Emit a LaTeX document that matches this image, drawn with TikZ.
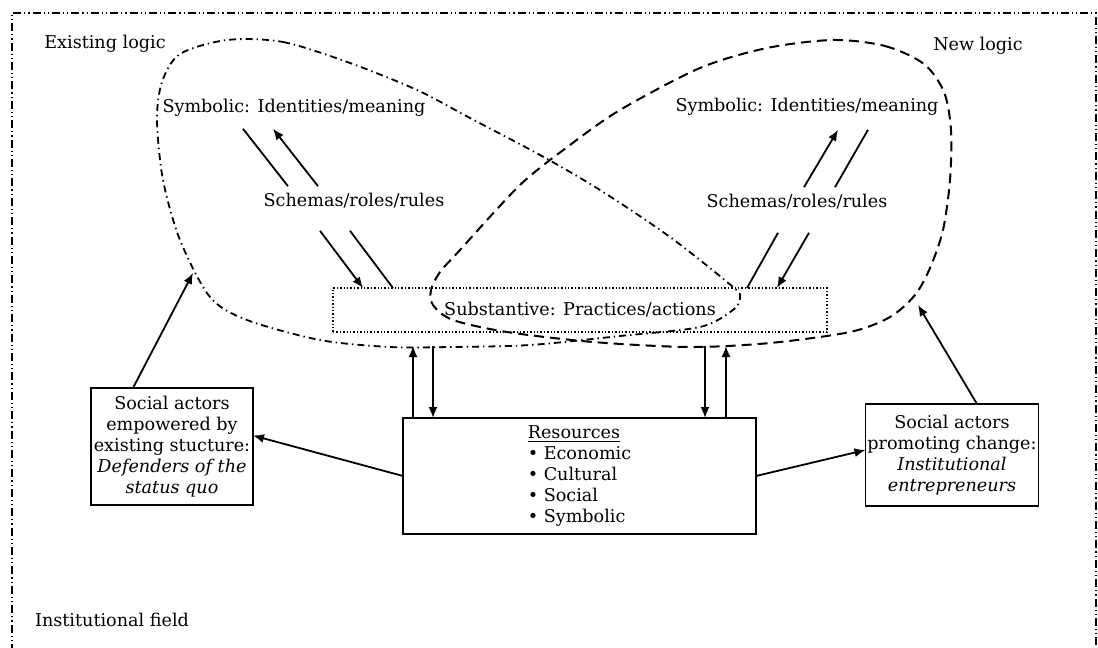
\documentclass[tikz,border=0pt]{standalone}
\usepackage{fontspec}
\setmainfont{DejaVu Serif}
\usetikzlibrary{arrows.meta}

\begin{document}
\begin{tikzpicture}
[
x=0.5pt, y=-0.5pt,
every node/.style={font=\fontsize{8.8}{10.5}\selectfont},
txt/.style={inner sep=0pt, text height=6.6pt, text depth=1.8pt},
actbox/.style={rectangle, draw, line width=0.9pt, align=center, inner sep=1pt, outer sep=0pt},
arr/.style={line width=0.9pt, -{Latex[length=5.5pt, width=4.5pt]}},
lin/.style={line width=0.9pt},
oldlogic/.style={line width=0.9pt, dash pattern=on 3.5pt off 2pt on 0.7pt off 2pt},
newlogic/.style={line width=1pt, dash pattern=on 5pt off 3pt},
field/.style={line width=1.1pt, dash pattern=on 4pt off 1.5pt on 0.6pt off 1.5pt on 0.6pt off 1.5pt},
]
\useasboundingbox (0,0) rectangle (1098,648);
\draw [field] (12,652) -- (12,13) -- (1096,13) -- (1096,652);

\draw [oldlogic] plot [smooth cycle] coordinates {(227,40) (283,42) (350,63) (417,90) (470,118) (540,155) (600,190) (670,237) (733,287) (740,298) (733,310) (700,327) (620,336) (530,345) (450,347) (390,347) (320,340) (247,320) (210,297) (180,240) (163,180) (157,120) (162,82) (180,54)};
\draw [newlogic] plot [smooth cycle] coordinates {(833,40) (885,46) (924,64) (944,92) (951,130) (950,180) (943,230) (930,268) (915,295) (890,317) (850,332) (770,343) (690,347) (593,342) (507,332) (453,320) (433,305) (431,290) (440,272) (460,250) (520,185) (570,145) (620,110) (700,68) (767,48)};

\coordinate (oldin) at (193,273);
\coordinate (newin) at (918,305);
\coordinate (oldb1) at (413,346);
\coordinate (oldb2) at (433,346);
\coordinate (newb1) at (705,346);
\coordinate (newb2) at (726,346);

\node (exl) [txt] at (105,44) {Existing logic};
\node (nwl) [txt] at (978,46) {New logic};
\node (fld) [txt] at (112,622) {Institutional field};
\node (syml) [txt] at (294,108) {Symbolic: Identities/meaning};
\node (scl) [txt] at (354,202) {Schemas/roles/rules};
\node (symr) [txt] at (807,107) {Symbolic: Identities/meaning};
\node (scr) [txt] at (797,203) {Schemas/roles/rules};
\node (prac) [rectangle, draw, densely dotted, line width=0.7pt, outer sep=0pt, minimum width=247pt, minimum height=22pt] at (580,310) {Substantive: Practices/actions};
\node (res) [actbox, align=left, minimum width=176.5pt, minimum height=58pt] at (579.5,476) {\underline{Resources}\\ \textbullet\ Economic\\ \textbullet\ Cultural\\ \textbullet\ Social\\ \textbullet\ Symbolic};
\node (actl) [actbox, minimum width=81pt, minimum height=58.5pt] at (172,446.5) {Social actors\\ empowered by\\ existing stucture:\\ \textit{Defenders of the}\\ \textit{status quo}};
\node (actr) [actbox, minimum width=86pt, minimum height=51pt] at (952,455) {Social actors\\ promoting change:\\ \textit{Institutional}\\ \textit{entrepreneurs}};

\draw [lin] ([shift={(-51,12)}]syml.south) -- ([shift={(-66,-7)}]scl.north);
\draw [arr] ([shift={(-36,-7)}]scl.north) -- ([shift={(-21,12)}]syml.south);
\draw [arr] ([shift={(-34,20)}]scl.south) -- ([shift={(-217,0)}]prac.north);
\draw [lin] ([shift={(-4,20)}]scl.south) -- ([shift={(-187,0)}]prac.north);
\draw [arr] ([shift={(7,-7)}]scr.north) -- ([shift={(31,14)}]symr.south);
\draw [lin] ([shift={(38,-7)}]scr.north) -- ([shift={(61,14)}]symr.south);
\draw [lin] ([shift={(-19,21)}]scr.south) -- ([shift={(167,0)}]prac.north);
\draw [arr] ([shift={(12,21)}]scr.south) -- ([shift={(197,0)}]prac.north);

\draw [arr] ([shift={(10,0)}]res.north west) -- (oldb1);
\draw [arr] (oldb2) -- ([shift={(30,0)}]res.north west);
\draw [arr] (newb1) -- ([shift={(-51,0)}]res.north east);
\draw [arr] ([shift={(-30,0)}]res.north east) -- (newb2);

\draw [arr] ([shift={(-39,0)}]actl.north) -- (oldin);
\draw [arr] ([shift={(25,0)}]actr.north) -- (newin);
\draw [arr] (res.west) -- ([shift={(0,-11)}]actl.east);
\draw [arr] (res.east) -- ([shift={(0,-5)}]actr.west);
\end{tikzpicture}
\end{document}
